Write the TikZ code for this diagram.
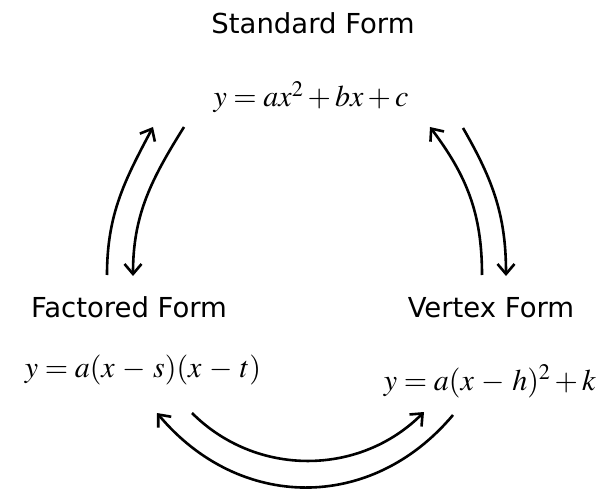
\documentclass[tikz,border=0pt]{standalone}
\usepackage{mathptmx}
\usepackage[no-math]{fontspec}
\setsansfont{DejaVu Sans}
\usetikzlibrary{arrows.meta}

\begin{document}
\begin{tikzpicture}[x=1pt, y=1pt,
  title/.style={font=\sffamily\fontsize{27.5}{31}\selectfont, anchor=base, inner sep=0pt},
  formula/.style={font=\fontsize{30}{34}\selectfont, anchor=base, inner sep=0pt},
  arrow/.style={-{Straight Barb[length=10pt, width=17pt]}, line width=2.6pt}
]
\useasboundingbox (0,0) rectangle (602,-489);

% the three forms
\node[title] (stdname) at (313,-34) {Standard Form};
\node[formula] (std) at (311,-107) {$y=ax^2+bx+c$};
\node[title] (facname) at (129,-317) {Factored Form};
\node[formula] (fac) at (143,-377) {$y=a(x\,-\,s)(x\,-\,t)$};
\node[title] (vertname) at (491,-317) {Vertex Form};
\node[formula] (vert) at (490,-390) {$y=a(x\,-\,h)^2+k$};

% ends of the arrows
\coordinate (fac-up) at (107,-275);
\coordinate (std-left) at (153,-127);
\coordinate (std-down) at (184,-127);
\coordinate (fac-in) at (133,-276);
\coordinate (vert-up) at (482,-275);
\coordinate (std-right) at (430,-127);
\coordinate (std-out) at (463,-128);
\coordinate (vert-in) at (506,-276);
\coordinate (fac-out) at (192,-413);
\coordinate (vert-left) at (424,-412);
\coordinate (vert-out) at (453,-415);
\coordinate (fac-back) at (157,-413);

\draw[arrow] (fac-up) to[out=90, in=-118] (std-left);
\draw[arrow] (std-down) to[out=-122, in=90] (fac-in);
\draw[arrow] (vert-up) to[out=90, in=-53] (std-right);
\draw[arrow] (std-out) to[out=-60, in=90] (vert-in);
\draw[arrow] (fac-out) to[out=-45, in=-135] (vert-left);
\draw[arrow] (vert-out) to[out=-130, in=-50, looseness=1.1] (fac-back);
\end{tikzpicture}
\end{document}
